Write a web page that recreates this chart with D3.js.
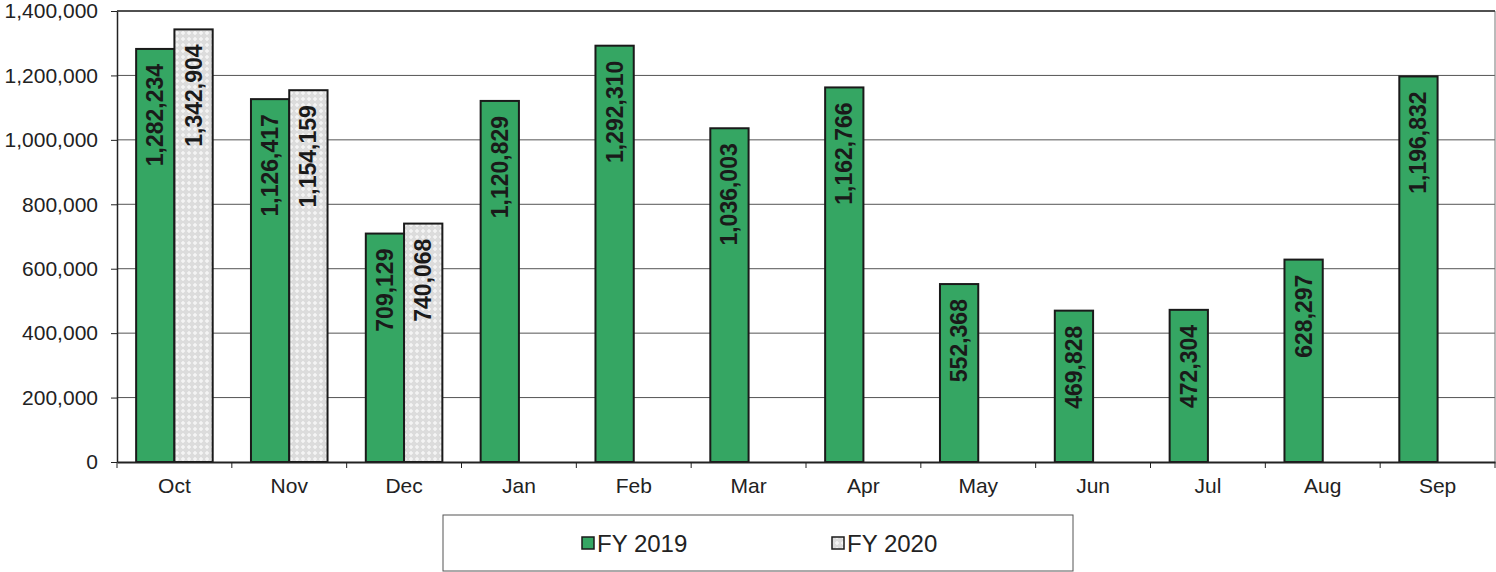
<!DOCTYPE html>
<html>
<head>
<script src="https://d3js.org/d3.v7.min.js"></script>
<style>
  body { margin: 0; background: #fff; }
  svg { font-family: Arial, "Liberation Sans", sans-serif; }
</style>
</head>
<body>
<svg id="chart" width="1496" height="572"></svg>
<script>
// data
var months = ["Oct", "Nov", "Dec", "Jan", "Feb", "Mar", "Apr", "May", "Jun", "Jul", "Aug", "Sep"];
var fy2019 = [1282234, 1126417, 709129, 1120829, 1292310, 1036003, 1162766, 552368, 469828, 472304, 628297, 1196832];
var fy2020 = [1342904, 1154159, 740068];
var seriesNames = ["FY 2019", "FY 2020"];
var yTicks = [0, 200000, 400000, 600000, 800000, 1000000, 1200000, 1400000];

var svg = d3.select("#chart");
var plotLeft = 117, plotRight = 1495, plotTop = 11, plotBottom = 462;
var fontFam = "Arial, 'Liberation Sans', sans-serif";

// pattern for the FY 2020 bars
var defs = svg.append("defs");
var pat = defs.append("pattern")
  .attr("id", "dots")
  .attr("width", 6).attr("height", 6)
  .attr("patternUnits", "userSpaceOnUse");
pat.append("rect").attr("width", 6).attr("height", 6).attr("fill", "#dcdcdc");
pat.append("path").attr("d", "M3,1 L3,5 M1,3 L5,3").attr("stroke", "#f6f6f6").attr("stroke-width", 1.5);

var x = d3.scaleBand().domain(months).range([plotLeft, plotRight]);
var x1 = d3.scaleBand().domain(seriesNames).range([0, x.bandwidth()]).paddingOuter(0.5);
var y = d3.scaleLinear().domain([0, 1400000]).range([plotBottom, plotTop]);

// gridlines
svg.append("g").selectAll("line").data(yTicks.slice(1)).join("line")
  .attr("x1", plotLeft).attr("x2", plotRight)
  .attr("y1", d => y(d)).attr("y2", d => y(d))
  .attr("stroke", "#555").attr("stroke-width", 1);

// right border
svg.append("line").attr("x1", plotRight).attr("x2", plotRight).attr("y1", plotTop).attr("y2", plotBottom)
  .attr("stroke", "#777");

// bars
var rows = [];
months.forEach(function(m, i) {
  rows.push({m: m, s: seriesNames[0], v: fy2019[i]});
  if (i < fy2020.length) rows.push({m: m, s: seriesNames[1], v: fy2020[i]});
});

svg.append("g").selectAll("rect").data(rows).join("rect")
  .attr("x", d => x(d.m) + x1(d.s))
  .attr("y", d => y(d.v))
  .attr("width", x1.bandwidth())
  .attr("height", d => plotBottom - y(d.v))
  .attr("fill", d => d.s == "FY 2019" ? "#35a663" : "url(#dots)")
  .attr("stroke", "#1a1a1a").attr("stroke-width", 2);

// value labels, rotated
svg.append("g").selectAll("text").data(rows).join("text")
  .attr("transform", d => "translate(" + (x(d.m) + x1(d.s) + x1.bandwidth() / 2 + 8) + "," + (y(d.v) + 15) + ") rotate(-90)")
  .attr("text-anchor", "end")
  .attr("font-size", 23).attr("font-weight", "bold")
  .attr("fill", "#1a1a1a")
  .text(d => d3.format(",")(d.v));

// y axis
var yAxis = svg.append("g")
  .attr("transform", "translate(" + plotLeft + ",0)")
  .call(d3.axisLeft(y).tickValues(yTicks).tickFormat(d3.format(",")).tickSize(6).tickSizeOuter(0));
yAxis.select(".domain").attr("stroke", "#222").attr("stroke-width", 1.5);
yAxis.selectAll(".tick line").attr("stroke", "#222");
yAxis.selectAll("text").attr("font-size", 21).attr("fill", "#222").attr("x", -19).attr("font-family", fontFam);

// top border
svg.append("line").attr("x1", plotLeft).attr("x2", plotRight).attr("y1", plotTop).attr("y2", plotTop)
  .attr("stroke", "#333").attr("stroke-width", 1.5);

// x axis
var xAxis = svg.append("g")
  .attr("transform", "translate(0," + plotBottom + ")")
  .call(d3.axisBottom(x).tickSize(0).tickSizeOuter(0));
xAxis.select(".domain").attr("stroke", "#222").attr("stroke-width", 2);
xAxis.selectAll("text").attr("font-size", 21).attr("fill", "#222").attr("y", 0).attr("dy", 31).attr("font-family", fontFam);
// category dividers under the axis
svg.append("g").selectAll("line").data(months.concat(["end"])).join("line")
  .attr("x1", (d, i) => plotLeft + i * x.step()).attr("x2", (d, i) => plotLeft + i * x.step())
  .attr("y1", plotBottom).attr("y2", plotBottom + 6)
  .attr("stroke", "#222");

// legend
var lg = svg.append("g");
lg.append("rect").attr("x", 443).attr("y", 515).attr("width", 630).attr("height", 56)
  .attr("fill", "#fff").attr("stroke", "#555").attr("stroke-width", 1);
var legendX = [582, 832];
seriesNames.forEach(function(s, i) {
  lg.append("rect").attr("x", legendX[i]).attr("y", 537).attr("width", 12).attr("height", 12)
    .attr("fill", i == 0 ? "#35a663" : "url(#dots)").attr("stroke", "#1a1a1a").attr("stroke-width", 1.5);
  lg.append("text").attr("x", legendX[i] + 15).attr("y", 552)
    .attr("font-size", 24).attr("fill", "#222").text(s);
});
</script>
</body>
</html>
